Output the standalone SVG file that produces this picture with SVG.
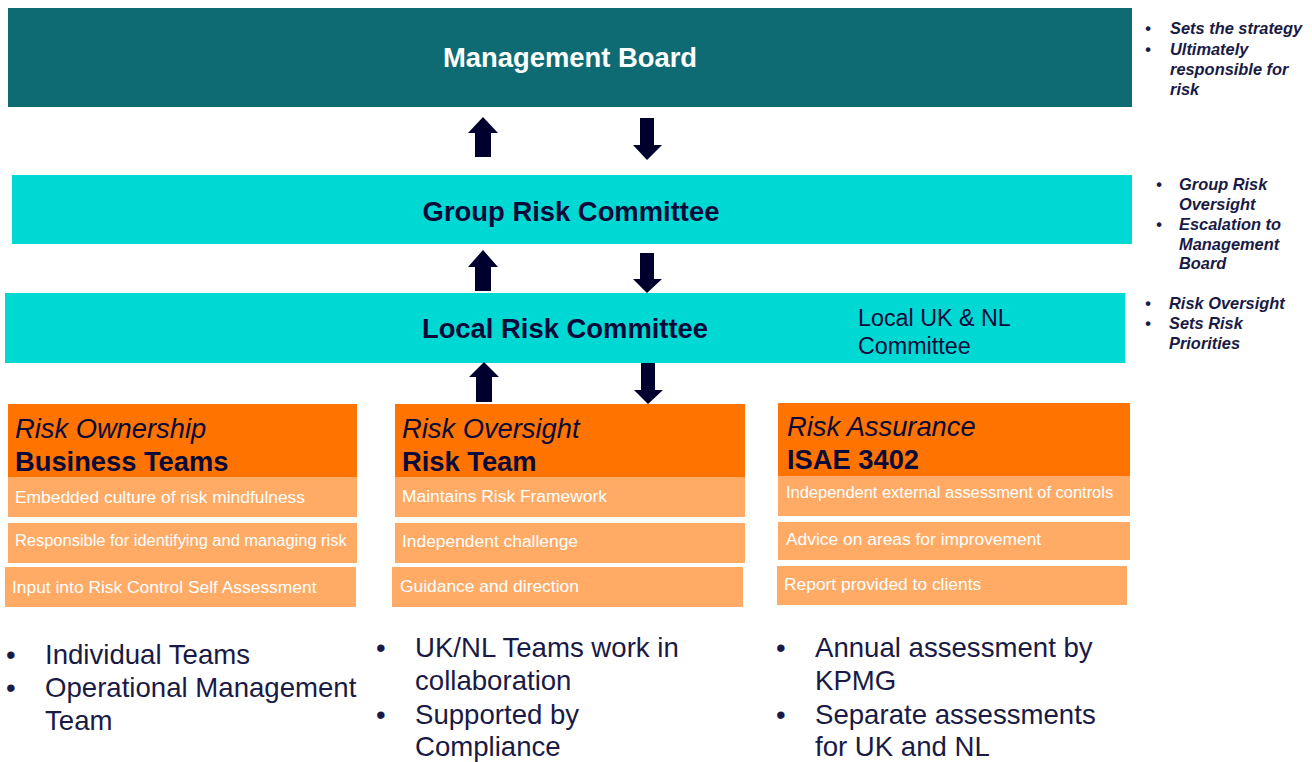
<svg xmlns="http://www.w3.org/2000/svg" width="1312" height="762" viewBox="0 0 1312 762">
<style>
.mb{fill:#0e6b73}
.cy{fill:#00d9d3}
.hd{fill:#ff7300}
.it{fill:#ffab66}
.ar{fill:#00002e}
.t{font-family:"Liberation Sans",Arial,sans-serif}
.big{font-size:27.4px;font-weight:bold}
.navy{fill:#0a0a3a}
.wt{fill:#ffffff}
.hi{font-size:27.3px;font-style:italic;fill:#0a0a3a}
.hb{font-size:27.3px;font-weight:bold;fill:#0a0a3a}
.itx{font-size:17.4px;fill:#ffffff}
.sm{font-size:16.45px}
.side{font-size:16.4px;font-style:italic;font-weight:bold;fill:#1a1a46}
.bul{font-size:27.6px;fill:#1a1a46}
</style>
<g id="management-board">
<rect class="mb" x="8" y="8" width="1124" height="99"/>
<text class="t big wt" x="570" y="67" text-anchor="middle">Management Board</text>
</g>
<g id="mb-notes">
<text class="t side" x="1145" y="34">•</text><text class="t side" x="1170" y="34">Sets the strategy</text>
<text class="t side" x="1145" y="55">•</text><text class="t side" x="1170" y="55">Ultimately</text>
<text class="t side" x="1170" y="75">responsible for</text>
<text class="t side" x="1170" y="95">risk</text>
</g>
<g id="group-risk-committee">
<rect class="cy" x="12" y="175" width="1120" height="69"/>
<text class="t big navy" x="571" y="221" text-anchor="middle">Group Risk Committee</text>
</g>
<g id="grc-notes">
<text class="t side" x="1156" y="190">•</text><text class="t side" x="1179" y="190">Group Risk</text>
<text class="t side" x="1179" y="210">Oversight</text>
<text class="t side" x="1156" y="230">•</text><text class="t side" x="1179" y="230">Escalation to</text>
<text class="t side" x="1179" y="250">Management</text>
<text class="t side" x="1179" y="269">Board</text>
</g>
<g id="local-risk-committee">
<rect class="cy" x="5" y="293" width="1120" height="70"/>
<text class="t big navy" x="565" y="338" text-anchor="middle">Local Risk Committee</text>
<text class="t navy" style="font-size:23.3px" x="858" y="326">Local UK &amp; NL</text>
<text class="t navy" style="font-size:23.3px" x="858" y="354">Committee</text>
</g>
<g id="lrc-notes">
<text class="t side" x="1145" y="309">•</text><text class="t side" x="1169" y="309">Risk Oversight</text>
<text class="t side" x="1145" y="329">•</text><text class="t side" x="1169" y="329">Sets Risk</text>
<text class="t side" x="1169" y="349">Priorities</text>
</g>
<g id="connectors">
<polygon class="ar" points="483,117 498,133 491,133 491,157 475,157 475,133 468,133"/>
<polygon class="ar" points="640,118 654,118 654,145 662,145 647,160 633,145 640,145"/>
<polygon class="ar" points="483,250 498,267 491,267 491,291 475,291 475,267 468,267"/>
<polygon class="ar" points="640,253 654,253 654,279 662,279 647,293 633,279 640,279"/>
<polygon class="ar" points="484,362 499,377 492,377 492,402 476,402 476,377 469,377"/>
<polygon class="ar" points="641,363 655,363 655,390 663,390 648,404 634,390 641,390"/>
</g>
<g id="business-teams">
<rect class="hd" x="8" y="404" width="349" height="73"/>
<text class="t hi" x="15" y="438">Risk Ownership</text>
<text class="t hb" x="15" y="471">Business Teams</text>
<rect class="it" x="8" y="477" width="349" height="40"/>
<text class="t itx" x="15" y="503">Embedded culture of risk mindfulness</text>
<rect class="it" x="8" y="523" width="349" height="40"/>
<text class="t itx sm" x="15" y="546">Responsible for identifying and managing risk</text>
<rect class="it" x="5" y="567" width="351" height="40"/>
<text class="t itx" x="12" y="593">Input into Risk Control Self Assessment</text>
</g>
<g id="risk-team">
<rect class="hd" x="395" y="404" width="350" height="73"/>
<text class="t hi" x="402" y="438">Risk Oversight</text>
<text class="t hb" x="402" y="471">Risk Team</text>
<rect class="it" x="395" y="477" width="350" height="40"/>
<text class="t itx" x="402" y="502">Maintains Risk Framework</text>
<rect class="it" x="395" y="523" width="350" height="40"/>
<text class="t itx" x="402" y="547">Independent challenge</text>
<rect class="it" x="392" y="567" width="351" height="40"/>
<text class="t itx" x="400" y="592">Guidance and direction</text>
</g>
<g id="isae-3402">
<rect class="hd" x="778" y="403" width="352" height="73"/>
<text class="t hi" x="787" y="436">Risk Assurance</text>
<text class="t hb" x="787" y="469">ISAE 3402</text>
<rect class="it" x="778" y="476" width="352" height="40"/>
<text class="t itx sm" x="786" y="498">Independent external assessment of controls</text>
<rect class="it" x="778" y="522" width="352" height="38"/>
<text class="t itx" x="786" y="545">Advice on areas for improvement</text>
<rect class="it" x="777" y="566" width="350" height="39"/>
<text class="t itx" x="784" y="590">Report provided to clients</text>
</g>
<g id="business-notes">
<text class="t bul" x="6" y="664">•</text><text class="t bul" x="45" y="664">Individual Teams</text>
<text class="t bul" x="6" y="697">•</text><text class="t bul" x="45" y="697">Operational Management</text>
<text class="t bul" x="45" y="730">Team</text>
</g>
<g id="risk-team-notes">
<text class="t bul" x="376" y="657">•</text><text class="t bul" x="415" y="657">UK/NL Teams work in</text>
<text class="t bul" x="415" y="690">collaboration</text>
<text class="t bul" x="376" y="724">•</text><text class="t bul" x="415" y="724">Supported by</text>
<text class="t bul" x="415" y="756">Compliance</text>
</g>
<g id="assurance-notes">
<text class="t bul" x="776" y="657">•</text><text class="t bul" x="815" y="657">Annual assessment by</text>
<text class="t bul" x="815" y="690">KPMG</text>
<text class="t bul" x="776" y="724">•</text><text class="t bul" x="815" y="724">Separate assessments</text>
<text class="t bul" x="815" y="756">for UK and NL</text>
</g>
</svg>
